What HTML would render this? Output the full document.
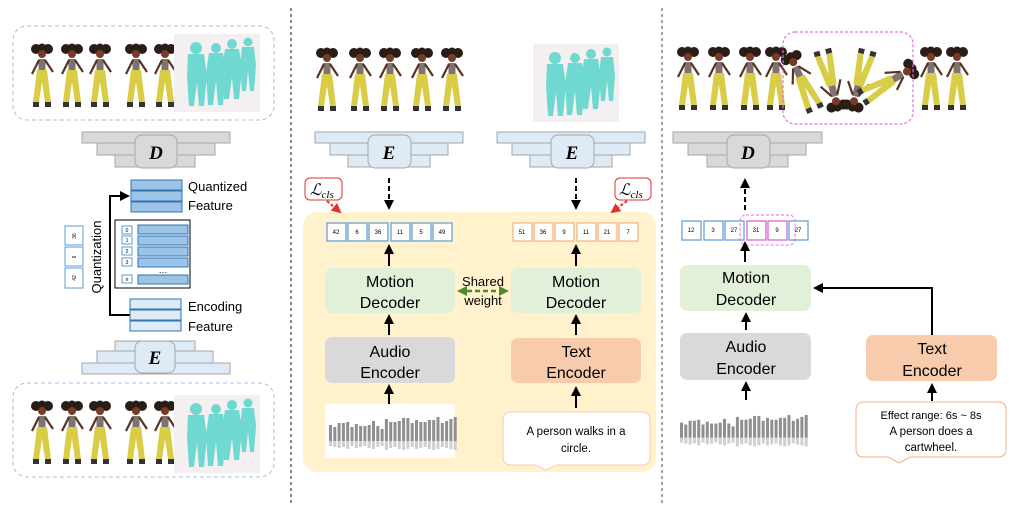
<!DOCTYPE html>
<html><head><meta charset="utf-8">
<style>
html,body{margin:0;padding:0;background:#fff;}
svg{display:block;font-family:"Liberation Sans",sans-serif;}
</style></head>
<body>
<svg width="1016" height="515" viewBox="0 0 1016 515" xmlns="http://www.w3.org/2000/svg">
<defs>
  <symbol id="fig" viewBox="0 0 30 70" width="30" height="70">
    <circle cx="9" cy="7" r="5" fill="#2a1c17"/>
    <circle cx="21" cy="7" r="5" fill="#2a1c17"/>
    <circle cx="15" cy="6" r="4.5" fill="#2a1c17"/>
    <circle cx="15" cy="12" r="4" fill="#7a3b26"/>
    <rect x="11.5" y="17" width="7" height="11" fill="#7d7370"/>
    <path d="M12 18 L5 32 M18 18 L26 30" stroke="#5a3320" stroke-width="2.2" fill="none"/>
    <path d="M10 28 L20 28 L24 60 L18 60 L15 40 L12 60 L6 60 Z" fill="#d9cd48"/>
    <rect x="6" y="60" width="6" height="5" fill="#333"/>
    <rect x="18" y="60" width="6" height="5" fill="#333"/>
  </symbol>
  <symbol id="cy" viewBox="0 0 86 78" width="86" height="78">
    <rect x="0" y="0" width="86" height="78" fill="#f4eff0"/>
    <g fill="#6fd8d0">
      <circle cx="22" cy="14" r="6"/><path d="M14 20 h16 l3 22 l-3 30 h-5 l-2-24 l-3 24 h-5 l-2-30 z"/>
      <circle cx="42" cy="14" r="5"/><path d="M35 19 h14 l3 20 l-3 32 h-5 l-2-24 l-3 24 h-5 l-2-32 z"/>
      <circle cx="58" cy="10" r="5"/><path d="M51 15 h14 l3 20 l-3 30 h-5 l-2-22 l-3 22 h-5 l-2-30 z"/>
      <circle cx="74" cy="8" r="4.5"/><path d="M68 13 h12 l2 18 l-2 26 h-4 l-2-20 l-2 20 h-4 l-2-26 z"/>
    </g>
  </symbol>
  <g id="wave">
    <g fill="#8f8f8f">
      <rect x="0" y="8" width="3" height="16"/><rect x="4.3" y="10" width="3" height="14"/><rect x="8.6" y="6" width="3" height="18"/><rect x="12.9" y="6" width="3" height="18"/><rect x="17.2" y="5" width="3" height="19"/><rect x="21.5" y="10" width="3" height="14"/><rect x="25.8" y="7" width="3" height="17"/><rect x="30.1" y="9" width="3" height="15"/><rect x="34.4" y="9" width="3" height="15"/><rect x="38.7" y="8" width="3" height="16"/><rect x="43" y="4" width="3" height="20"/><rect x="47.3" y="9" width="3" height="15"/><rect x="51.6" y="12" width="3" height="12"/><rect x="55.9" y="2" width="3" height="22"/><rect x="60.2" y="5" width="3" height="19"/><rect x="64.5" y="5" width="3" height="19"/><rect x="68.8" y="4" width="3" height="20"/><rect x="73.1" y="1" width="3" height="23"/><rect x="77.4" y="1" width="3" height="23"/><rect x="81.7" y="6" width="3" height="18"/><rect x="86" y="3" width="3" height="21"/><rect x="90.3" y="5" width="3" height="19"/><rect x="94.6" y="5" width="3" height="19"/><rect x="98.9" y="3" width="3" height="21"/><rect x="103.2" y="3" width="3" height="21"/><rect x="107.5" y="0" width="3" height="24"/><rect x="111.8" y="6" width="3" height="18"/><rect x="116.1" y="4" width="3" height="20"/><rect x="120.4" y="2" width="3" height="22"/><rect x="124.7" y="0" width="3" height="24"/>
    </g>
    <g fill="#cfcfcf">
      <rect x="0" y="24" width="3" height="5"/><rect x="4.3" y="24" width="3" height="6"/><rect x="8.6" y="24" width="3" height="7"/><rect x="12.9" y="24" width="3" height="6"/><rect x="17.2" y="24" width="3" height="8"/><rect x="21.5" y="24" width="3" height="5"/><rect x="25.8" y="24" width="3" height="7"/><rect x="30.1" y="24" width="3" height="6"/><rect x="34.4" y="24" width="3" height="5"/><rect x="38.7" y="24" width="3" height="7"/><rect x="43" y="24" width="3" height="8"/><rect x="47.3" y="24" width="3" height="6"/><rect x="51.6" y="24" width="3" height="5"/><rect x="55.9" y="24" width="3" height="9"/><rect x="60.2" y="24" width="3" height="7"/><rect x="64.5" y="24" width="3" height="6"/><rect x="68.8" y="24" width="3" height="8"/><rect x="73.1" y="24" width="3" height="9"/><rect x="77.4" y="24" width="3" height="8"/><rect x="81.7" y="24" width="3" height="6"/><rect x="86" y="24" width="3" height="8"/><rect x="90.3" y="24" width="3" height="7"/><rect x="94.6" y="24" width="3" height="6"/><rect x="98.9" y="24" width="3" height="8"/><rect x="103.2" y="24" width="3" height="9"/><rect x="107.5" y="24" width="3" height="8"/><rect x="111.8" y="24" width="3" height="6"/><rect x="116.1" y="24" width="3" height="7"/><rect x="120.4" y="24" width="3" height="8"/><rect x="124.7" y="24" width="3" height="9"/>
    </g>
  </g>
  <marker id="ah" viewBox="0 0 10 10" refX="8" refY="5" markerWidth="5" markerHeight="5" orient="auto"><path d="M0 0 L10 5 L0 10 z" fill="#000"/></marker>
  <marker id="ahr" viewBox="0 0 10 10" refX="8" refY="5" markerWidth="5" markerHeight="5" orient="auto"><path d="M0 0 L10 5 L0 10 z" fill="#e0302a"/></marker>
  <marker id="ahg" viewBox="0 0 10 10" refX="8" refY="5" markerWidth="4" markerHeight="4" orient="auto-start-reverse"><path d="M0 0 L10 5 L0 10 z" fill="#4e8a2e"/></marker>
</defs>

<line x1="291" y1="8" x2="291" y2="505" stroke="#888" stroke-width="2" stroke-dasharray="3,3"/>
<line x1="662" y1="8" x2="662" y2="505" stroke="#444" stroke-width="1" stroke-dasharray="3,3"/>

<!-- LEFT -->
<rect x="13" y="26" width="261" height="94" rx="14" fill="none" stroke="#a9bde6" stroke-dasharray="4,3"/>
<use href="#fig" x="27" y="42"/><use href="#fig" x="57" y="42"/><use href="#fig" x="85" y="42"/><use href="#fig" x="121" y="42"/><use href="#fig" x="150" y="42"/>
<use href="#cy" x="174" y="34"/>

<g fill="#d9d9d9" stroke="#a6a6a6">
<rect x="82" y="132" width="148" height="11"/><rect x="97" y="143" width="118" height="12"/><rect x="115" y="155" width="80" height="12"/>
<rect x="135" y="135" width="42" height="33" rx="7"/>
</g>
<text x="156" y="159" font-family="Liberation Serif,serif" font-style="italic" font-weight="bold" font-size="19" text-anchor="middle">D</text>

<g fill="#9dc3e6" stroke="#2e75b6">
<rect x="131" y="180" width="51" height="10"/><rect x="131" y="191" width="51" height="10"/><rect x="131" y="202" width="51" height="10"/>
</g>
<text x="188" y="191" font-size="13">Quantized</text>
<text x="188" y="210" font-size="13">Feature</text>
<rect x="115" y="220" width="75" height="68" fill="#fff" stroke="#000"/>
<g fill="#9dc3e6" stroke="#2e75b6">
<rect x="138" y="225" width="50" height="9"/><rect x="138" y="236" width="50" height="9"/><rect x="138" y="247" width="50" height="9"/><rect x="138" y="258" width="50" height="9"/><rect x="138" y="275" width="50" height="9"/>
</g>
<g fill="#fff" stroke="#5b9bd5">
<rect x="122" y="226" width="10" height="8"/><rect x="122" y="236" width="10" height="8"/><rect x="122" y="247" width="10" height="8"/><rect x="122" y="258" width="10" height="8"/><rect x="122" y="275" width="10" height="8"/>
</g>
<g font-size="5" text-anchor="middle"><text x="127" y="232">0</text><text x="127" y="242">1</text><text x="127" y="253">2</text><text x="127" y="264">3</text><text x="127" y="281">n</text></g>
<text x="163" y="273" font-size="9" text-anchor="middle">…</text>
<g fill="#fff" stroke="#5b9bd5"><rect x="65" y="226" width="18" height="19"/><rect x="65" y="247" width="18" height="19"/><rect x="65" y="268" width="18" height="20"/></g>
<g font-size="5" text-anchor="middle"><text transform="translate(76,236) rotate(-90)">36</text><text transform="translate(76,257) rotate(-90)">6</text><text transform="translate(76,278) rotate(-90)">42</text></g>
<text transform="translate(101,257) rotate(-90)" font-size="13" text-anchor="middle">Quantization</text>
<path d="M131 315 H110 V196 H128" fill="none" stroke="#000" stroke-width="2" marker-end="url(#ah)"/>
<g fill="#deebf7" stroke="#2e75b6">
<rect x="130" y="299" width="51" height="10"/><rect x="130" y="310" width="51" height="10"/><rect x="130" y="321" width="51" height="10"/>
</g>
<text x="188" y="311" font-size="13">Encoding</text>
<text x="188" y="331" font-size="13">Feature</text>
<g fill="#deebf7" stroke="#a6a6a6">
<rect x="115" y="341" width="80" height="10"/><rect x="97" y="351" width="116" height="12"/><rect x="82" y="363" width="148" height="11"/>
<rect x="135" y="341" width="40" height="32" rx="7"/>
</g>
<text x="155" y="364" font-family="Liberation Serif,serif" font-style="italic" font-weight="bold" font-size="19" text-anchor="middle">E</text>

<rect x="13" y="383" width="261" height="94" rx="14" fill="none" stroke="#a9bde6" stroke-dasharray="4,3"/>
<use href="#fig" x="27" y="399"/><use href="#fig" x="57" y="399"/><use href="#fig" x="85" y="399"/><use href="#fig" x="121" y="399"/><use href="#fig" x="150" y="399"/>
<use href="#cy" x="174" y="395"/>

<!-- MIDDLE -->
<use href="#fig" x="312" y="46"/><use href="#fig" x="345" y="46"/><use href="#fig" x="375" y="46"/><use href="#fig" x="407" y="46"/><use href="#fig" x="437" y="46"/>
<use href="#cy" x="533" y="44"/>

<g fill="#deebf7" stroke="#a6a6a6">
<rect x="315" y="132" width="148" height="11"/><rect x="330" y="143" width="118" height="12"/><rect x="348" y="155" width="82" height="12"/>
<rect x="368" y="135" width="43" height="33" rx="7"/>
<rect x="497" y="132" width="148" height="11"/><rect x="512" y="143" width="118" height="12"/><rect x="530" y="155" width="82" height="12"/>
<rect x="551" y="135" width="43" height="33" rx="7"/>
</g>
<text x="389" y="159" font-family="Liberation Serif,serif" font-style="italic" font-weight="bold" font-size="19" text-anchor="middle">E</text>
<text x="572" y="159" font-family="Liberation Serif,serif" font-style="italic" font-weight="bold" font-size="19" text-anchor="middle">E</text>
<line x1="389" y1="178" x2="389" y2="208" stroke="#000" stroke-width="2" stroke-dasharray="5,3" marker-end="url(#ah)"/>
<line x1="576" y1="178" x2="576" y2="208" stroke="#000" stroke-width="2" stroke-dasharray="5,3" marker-end="url(#ah)"/>

<rect x="303" y="212" width="353" height="260" rx="14" fill="#fff2cc"/>

<rect x="305" y="178" width="37" height="22" rx="5" fill="#fff" stroke="#e0302a"/>
<text x="310" y="195" font-family="Liberation Serif,serif" font-style="italic" font-size="16">ℒ<tspan font-size="11" dy="3">cls</tspan></text>
<line x1="327" y1="201" x2="340" y2="212" stroke="#e0302a" stroke-width="2" stroke-dasharray="3,2" marker-end="url(#ahr)"/>
<rect x="615" y="178" width="36" height="22" rx="5" fill="#fff" stroke="#e0302a"/>
<text x="619" y="195" font-family="Liberation Serif,serif" font-style="italic" font-size="16">ℒ<tspan font-size="11" dy="3">cls</tspan></text>
<line x1="627" y1="201" x2="612" y2="212" stroke="#e0302a" stroke-width="2" stroke-dasharray="3,2" marker-end="url(#ahr)"/>

<g fill="#fff" stroke="#5b9bd5" stroke-width="1.2">
<rect x="327" y="223" width="19" height="18"/><rect x="348" y="223" width="19" height="18"/><rect x="369" y="223" width="19" height="18"/><rect x="391" y="223" width="19" height="18"/><rect x="412" y="223" width="19" height="18"/><rect x="433" y="223" width="19" height="18"/>
</g>
<g font-size="6" text-anchor="middle"><text x="336" y="234">42</text><text x="357" y="234">6</text><text x="378" y="234">36</text><text x="400" y="234">11</text><text x="421" y="234">5</text><text x="442" y="234">49</text></g>
<g fill="#fff" stroke="#f4b183" stroke-width="1.2">
<rect x="513" y="223" width="19" height="18"/><rect x="534" y="223" width="19" height="18"/><rect x="555" y="223" width="19" height="18"/><rect x="577" y="223" width="19" height="18"/><rect x="598" y="223" width="19" height="18"/><rect x="619" y="223" width="19" height="18"/>
</g>
<g font-size="6" text-anchor="middle"><text x="522" y="234">51</text><text x="543" y="234">36</text><text x="564" y="234">9</text><text x="586" y="234">11</text><text x="607" y="234">21</text><text x="628" y="234">7</text></g>

<line x1="389" y1="266" x2="389" y2="246" stroke="#000" stroke-width="2" marker-end="url(#ah)"/>
<line x1="576" y1="266" x2="576" y2="246" stroke="#000" stroke-width="2" marker-end="url(#ah)"/>

<rect x="325" y="268" width="130" height="45" rx="7" fill="#e2efd9"/>
<rect x="511" y="268" width="130" height="45" rx="7" fill="#e2efd9"/>
<g font-size="16" text-anchor="middle"><text x="390" y="287">Motion</text><text x="390" y="308">Decoder</text><text x="576" y="287">Motion</text><text x="576" y="308">Decoder</text></g>
<text x="483" y="286" font-size="13" text-anchor="middle">Shared</text>
<text x="483" y="305" font-size="13" text-anchor="middle">weight</text>
<line x1="459" y1="291" x2="507" y2="291" stroke="#4e8a2e" stroke-width="2.5" stroke-dasharray="5,3" marker-start="url(#ahg)" marker-end="url(#ahg)"/>

<line x1="389" y1="335" x2="389" y2="316" stroke="#000" stroke-width="2" marker-end="url(#ah)"/>
<line x1="576" y1="335" x2="576" y2="316" stroke="#000" stroke-width="2" marker-end="url(#ah)"/>

<rect x="325" y="337" width="130" height="46" rx="7" fill="#d9d9d9"/>
<rect x="511" y="338" width="130" height="45" rx="7" fill="#f8cbad"/>
<g font-size="16" text-anchor="middle"><text x="390" y="357">Audio</text><text x="390" y="378">Encoder</text><text x="576" y="357">Text</text><text x="576" y="378">Encoder</text></g>

<line x1="389" y1="404" x2="389" y2="386" stroke="#000" stroke-width="2" marker-end="url(#ah)"/>
<line x1="576" y1="408" x2="576" y2="388" stroke="#000" stroke-width="2" marker-end="url(#ah)"/>

<rect x="325" y="404" width="130" height="54" fill="#fff"/>
<use href="#wave" x="329" y="417"/>

<path d="M512 412 H642 Q650 412 650 420 V457 Q650 465 642 465 H557 L546 470 L535 465 H512 Q503 465 503 457 V420 Q503 412 512 412 Z" fill="#fff" stroke="#f8cbad"/>
<text x="576" y="435" font-size="11.5" text-anchor="middle">A person walks in a</text>
<text x="576" y="452" font-size="11.5" text-anchor="middle">circle.</text>

<!-- RIGHT -->
<use href="#fig" x="673" y="45"/><use href="#fig" x="704" y="45"/><use href="#fig" x="735" y="45"/><use href="#fig" x="761" y="45"/>
<g transform="translate(788,48) rotate(-25 15 35)"><use href="#fig"/></g>
<g transform="translate(815,44) rotate(165 15 35)"><use href="#fig"/></g>
<g transform="translate(845,44) rotate(195 15 35)"><use href="#fig"/></g>
<g transform="translate(872,48) rotate(60 15 35)"><use href="#fig"/></g>
<use href="#fig" x="916" y="45"/><use href="#fig" x="942" y="45"/>
<rect x="783" y="32" width="130" height="92" rx="12" fill="none" stroke="#e36ee0" stroke-width="1.2" stroke-dasharray="3,2"/>

<g fill="#d9d9d9" stroke="#a6a6a6">
<rect x="673" y="132" width="149" height="11"/><rect x="688" y="143" width="118" height="12"/><rect x="707" y="155" width="81" height="12"/>
<rect x="727" y="135" width="43" height="33" rx="7"/>
</g>
<text x="748" y="159" font-family="Liberation Serif,serif" font-style="italic" font-weight="bold" font-size="19" text-anchor="middle">D</text>
<line x1="745" y1="210" x2="745" y2="180" stroke="#000" stroke-width="2" stroke-dasharray="5,3" marker-end="url(#ah)"/>

<g fill="#fff" stroke-width="1.2">
<rect x="682" y="221" width="19" height="19" stroke="#5b9bd5"/><rect x="704" y="221" width="19" height="19" stroke="#5b9bd5"/><rect x="725" y="221" width="19" height="19" stroke="#5b9bd5"/><rect x="747" y="221" width="19" height="19" stroke="#d65bd0"/><rect x="768" y="221" width="19" height="19" stroke="#d65bd0"/><rect x="789" y="221" width="19" height="19" stroke="#5b9bd5"/>
</g>
<g font-size="6" text-anchor="middle"><text x="691" y="232">12</text><text x="713" y="232">3</text><text x="734" y="232">27</text><text x="756" y="232">31</text><text x="777" y="232">9</text><text x="798" y="232">27</text></g>
<rect x="740" y="215" width="55" height="30" rx="6" fill="none" stroke="#e36ee0" stroke-dasharray="3,2"/>
<line x1="745" y1="262" x2="745" y2="243" stroke="#000" stroke-width="2" marker-end="url(#ah)"/>

<rect x="680" y="265" width="131" height="46" rx="7" fill="#e2efd9"/>
<g font-size="16" text-anchor="middle"><text x="746" y="283">Motion</text><text x="746" y="305">Decoder</text></g>
<path d="M932 335 V288 H815" fill="none" stroke="#000" stroke-width="2" marker-end="url(#ah)"/>
<line x1="746" y1="330" x2="746" y2="314" stroke="#000" stroke-width="2" marker-end="url(#ah)"/>

<rect x="680" y="333" width="131" height="47" rx="7" fill="#d9d9d9"/>
<rect x="866" y="335" width="131" height="46" rx="7" fill="#f8cbad"/>
<g font-size="16" text-anchor="middle"><text x="746" y="352">Audio</text><text x="746" y="374">Encoder</text><text x="932" y="354">Text</text><text x="932" y="376">Encoder</text></g>
<line x1="746" y1="400" x2="746" y2="383" stroke="#000" stroke-width="2" marker-end="url(#ah)"/>
<line x1="932" y1="401" x2="932" y2="385" stroke="#000" stroke-width="2" marker-end="url(#ah)"/>

<g transform="translate(680,415) scale(1,0.95)"><use href="#wave"/></g>

<path d="M864 402 H998 Q1006 402 1006 410 V449 Q1006 457 998 457 H910 L899 463 L888 457 H864 Q856 457 856 449 V410 Q856 402 864 402 Z" fill="#fff" stroke="#f4b183"/>
<text x="931" y="419" font-size="11" text-anchor="middle">Effect range: 6s ~ 8s</text>
<text x="931" y="435" font-size="11.5" text-anchor="middle">A person does a</text>
<text x="931" y="451" font-size="11.5" text-anchor="middle">cartwheel.</text>
</svg>
</body></html>
